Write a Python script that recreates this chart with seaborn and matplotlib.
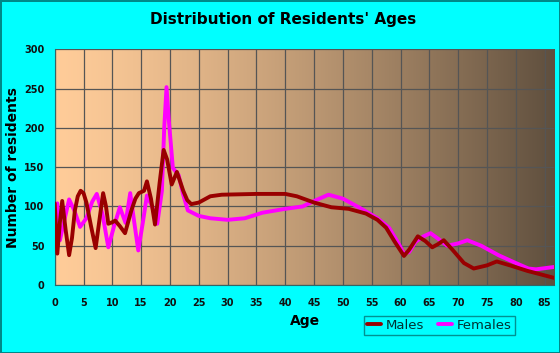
import seaborn as sns
import matplotlib.pyplot as plt
import numpy as np
import pandas as pd

# values
male_age = [0, 0.45, 0.9, 1.3, 1.9, 2.5, 3.0, 3.5, 4.0, 4.5, 5.0, 5.5, 6.3, 7.1, 7.8, 8.4, 8.9,
            9.3, 10.0, 10.5, 11.3, 12.2, 13.3, 14.0, 14.6, 15.5, 16.0, 16.7, 17.4, 18.2, 18.9,
            19.5, 20.3, 21.2, 22.3, 23.0, 23.7, 25, 27, 29, 35, 40, 42, 45, 48, 51, 54, 56,
            57.5, 59, 60.6, 61.5, 63.0, 64.3, 65.5, 66.5, 67.5, 69, 71, 72.7, 75, 76.7, 79, 82, 86.7]
male_val = [104, 40, 80, 107, 70, 38, 60, 95, 113, 120, 117, 105, 75, 47, 85, 117, 100,
            78, 80, 82, 75, 66, 95, 110, 117, 120, 132, 110, 77, 130, 172,
            160, 128, 144, 120, 108, 103, 105, 113, 115, 116, 116, 113, 105, 99, 97, 91, 83,
            73, 55, 37, 45, 62, 56, 48, 52, 57, 45, 28, 21, 25, 30, 25, 18, 9]

female_age = [0, 0.45, 0.9, 1.6, 2.5, 3.4, 4.4, 5.5, 6.5, 7.3, 8.3, 9.3, 10.3, 11.3, 12.3,
              13.1, 13.8, 14.5, 15.3, 16.0, 16.9, 17.8, 18.6, 19.0, 19.4, 19.8, 20.5, 21.5,
              22.3, 23.1, 25, 27, 30, 33, 36, 40, 43, 45, 47.5, 50, 53, 56, 58, 59.5,
              60.6, 61.5, 62.6, 64, 65.2, 66.7, 68.1, 70, 71.6, 74, 77, 80, 82.2, 83.5, 86.7]
female_val = [55, 104, 57, 80, 109, 95, 74, 85, 106, 116, 90, 48, 75, 99, 79,
              117, 80, 44, 80, 114, 100, 78, 120, 200, 252, 210, 149, 140,
              115, 95, 88, 85, 83, 85, 92, 97, 100, 107, 115, 110, 98, 85, 73, 55,
              40, 42, 55, 62, 66, 58, 50, 53, 57, 50, 38, 28, 21, 20, 23]

males = pd.DataFrame({"age": male_age, "residents": male_val})
females = pd.DataFrame({"age": female_age, "residents": female_val})

sns.set_style("white")
plt.rcParams["font.family"] = ["DejaVu Sans"]
plt.rcParams["text.color"] = "black"
plt.rcParams["axes.labelcolor"] = "black"

fig = plt.figure(figsize=(5.6, 3.53), dpi=100, facecolor="#00FFFF",
                 edgecolor="#008888", linewidth=2)
ax = fig.add_axes([0.0977, 0.1926, 0.8923, 0.6674])

# gradient background for the plot area
grad = np.linspace(0, 1, 256)
left = np.array([255, 204, 153]) / 255
right = np.array([95, 79, 62]) / 255
cols = left[None, :] * (1 - grad[:, None] ** 1.3) + right[None, :] * grad[:, None] ** 1.3
ax.imshow(cols[None, :, :], extent=[0, 1, 0, 1], transform=ax.transAxes,
          aspect="auto", zorder=0)

sns.lineplot(data=males, x="age", y="residents", color="#990000", linewidth=2.8,
             label="Males", ax=ax, zorder=3)
sns.lineplot(data=females, x="age", y="residents", color="#FF00FF", linewidth=2.8,
             label="Females", ax=ax, zorder=2)

ax.set_xlim(0, 86.7)
ax.set_ylim(0, 300)
ax.set_xticks(np.arange(0, 86, 5))
ax.set_xticks(np.arange(0, 87, 1), minor=True)
ax.set_yticks(np.arange(0, 301, 50))
ax.grid(True, color="#555555", linewidth=0.9, zorder=1)
for l in ax.get_xgridlines() + ax.get_ygridlines():
    l.set_zorder(1)

ax.tick_params(axis="both", which="major", labelsize=7, direction="out", length=4,
               width=0.8, color="#333333", labelcolor="#111111")
ax.tick_params(axis="x", which="minor", direction="out", length=3, width=0.6, color="#333333")
ax.tick_params(axis="x", pad=5)
for lab in ax.get_xticklabels() + ax.get_yticklabels():
    lab.set_fontweight("bold")

for side in ["top", "right"]:
    ax.spines[side].set_visible(False)
for side in ["left", "bottom"]:
    ax.spines[side].set_color("#336666")
    ax.spines[side].set_linewidth(0.8)

ax.set_xlabel("Age", fontsize=10, fontweight="bold", labelpad=5)
ax.set_ylabel("Number of residents", fontsize=10, fontweight="bold", labelpad=3)
fig.suptitle("Distribution of Residents' Ages", x=0.505, y=0.965, fontsize=11,
             fontweight="bold")

leg = ax.legend(loc="upper left", bbox_to_anchor=(0.618, -0.13), ncol=2,
                frameon=True, fancybox=False, facecolor="#00FFFF",
                edgecolor="#007777", fontsize=9.5, handlelength=1.1,
                columnspacing=1.0, borderpad=0.25, handletextpad=0.35,
                borderaxespad=0)
leg.get_frame().set_linewidth(1)
for t in leg.get_texts():
    t.set_color("#003333")

fig.savefig("out.png", dpi=100, facecolor=fig.get_facecolor(),
            edgecolor=fig.get_edgecolor())
